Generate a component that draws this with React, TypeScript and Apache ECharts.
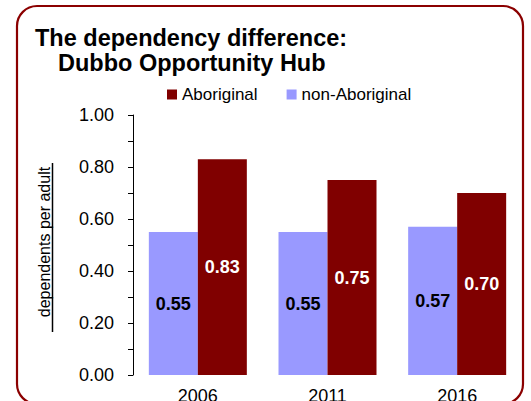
import React, { useEffect, useRef } from "react";
import * as echarts from "echarts";

const categories = ["2006", "2011", "2016"];
const nonAboriginal = [0.55, 0.55, 0.57];
const aboriginal = [0.83, 0.75, 0.7];
const seriesNames = ["Aboriginal", "non-Aboriginal"];
const titleLine1 = "The dependency difference:";
const titleLine2 = "Dubbo Opportunity Hub";
const yAxisName = "dependents per adult";

const FONT = "'Liberation Sans', Arial, Helvetica, sans-serif";
const RED = "#800000";
const LILAC = "#9999FF";

export default function App() {
  const ref = useRef<HTMLDivElement>(null);
  useEffect(() => {
    if (!ref.current) return;
    const chart = echarts.init(ref.current, null, { renderer: "svg" });
    chart.setOption({
      animation: false,
      backgroundColor: "#ffffff",
      textStyle: { fontFamily: FONT },
      title: [
        {
          text: titleLine1,
          left: 35,
          top: 26,
          padding: 0,
          textStyle: { fontFamily: FONT, fontSize: 23.5, fontWeight: "bold", color: "#000" },
        },
        {
          text: titleLine2,
          left: 58,
          top: 51,
          padding: 0,
          textStyle: { fontFamily: FONT, fontSize: 23.5, fontWeight: "bold", color: "#000" },
        },
      ],
      legend: {
        data: seriesNames,
        left: 167,
        top: 86,
        padding: 0,
        itemWidth: 10,
        itemHeight: 10,
        itemGap: 29,
        icon: "rect",
        textStyle: { fontFamily: FONT, fontSize: 17, color: "#000" },
      },
      grid: {
        left: 133,
        right: 9,
        top: 115,
        bottom: 26,
        containLabel: false,
        outerBoundsMode: "none",
      },
      xAxis: {
        type: "category",
        data: categories,
        axisLine: { show: false },
        axisTick: { show: false },
        axisLabel: { fontFamily: FONT, fontSize: 18, color: "#000", margin: 12 },
      },
      yAxis: {
        type: "value",
        min: 0,
        max: 1,
        interval: 0.2,
        axisLine: { show: true, lineStyle: { color: "#000", width: 1 } },
        axisTick: { show: true, length: 5, lineStyle: { color: "#000" } },
        minorTick: { show: true, splitNumber: 2, length: 5, lineStyle: { color: "#000" } },
        splitLine: { show: false },
        axisLabel: {
          fontFamily: FONT,
          fontSize: 18,
          color: "#000",
          margin: 19,
          formatter: (v: number) => v.toFixed(2),
        },
      },
      series: [
        {
          name: "non-Aboriginal",
          type: "bar",
          data: nonAboriginal,
          barWidth: 49,
          barGap: "0%",
          itemStyle: { color: LILAC },
          label: {
            show: true,
            position: "inside",
            fontFamily: FONT,
            fontSize: 18,
            fontWeight: "bold",
            color: "#000",
            formatter: (p: any) => Number(p.value).toFixed(2),
          },
        },
        {
          name: "Aboriginal",
          type: "bar",
          data: aboriginal,
          barWidth: 49,
          barGap: "0%",
          itemStyle: { color: RED },
          label: {
            show: true,
            position: "inside",
            fontFamily: FONT,
            fontSize: 18,
            fontWeight: "bold",
            color: "#fff",
            formatter: (p: any) => Number(p.value).toFixed(2),
          },
        },
      ],
      graphic: [
        {
          type: "rect",
          shape: { x: 17, y: 6, width: 506, height: 398, r: 20 },
          style: { fill: "none", stroke: "#8B0000", lineWidth: 2.2 },
          silent: true,
          z: 100,
        },
        {
          type: "text",
          x: 44,
          y: 242,
          rotation: Math.PI / 2,
          style: {
            text: yAxisName,
            fontFamily: FONT,
            fontSize: 16,
            fill: "#000",
            align: "center",
            verticalAlign: "middle",
          },
        },
        {
          type: "line",
          shape: { x1: 52.5, y1: 163, x2: 52.5, y2: 332 },
          style: { stroke: "#000", lineWidth: 1.5 },
        },
      ],
    });
    return () => chart.dispose();
  }, []);
  return (
    <div
      ref={ref}
      style={{ position: "fixed", left: 0, top: 0, width: 531, height: 401 }}
    />
  );
}
